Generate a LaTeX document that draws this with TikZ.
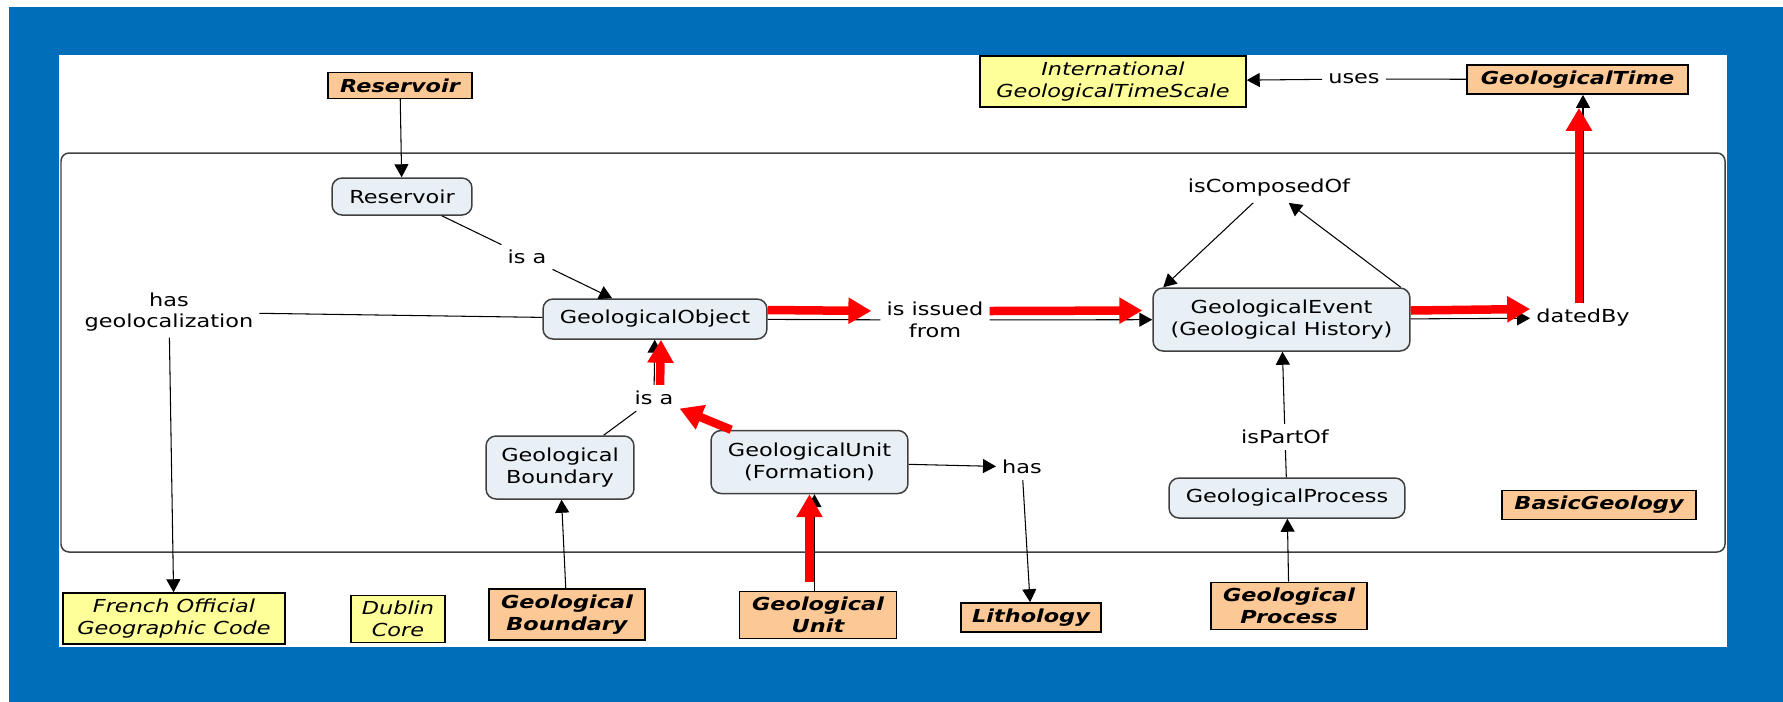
\documentclass[tikz,border=0pt]{standalone}
\usepackage{fontspec}
\setmainfont{DejaVu Sans}[FakeStretch=1.25]
\usetikzlibrary{arrows.meta}
\newcommand{\mapfont}{\fontsize{10.2}{12.3}\selectfont}
\definecolor{bgblue}{rgb}{0.0, 0.43, 0.72}
\definecolor{morange}{rgb}{0.99, 0.79, 0.59}
\definecolor{myellow}{rgb}{1.0, 1.0, 0.6}
\definecolor{mconcept}{rgb}{0.91, 0.94, 0.96}
\tikzset{concept/.style = {draw=black!75, fill=mconcept, rounded corners=0.2cm,
                           line width=0.85pt, align=center},
         ontology/.style = {draw, fill=morange, line width=0.85pt, align=center,
                            font=\mapfont\bfseries\itshape},
         extbox/.style = {draw, fill=myellow, line width=0.85pt, align=center,
                          font=\mapfont\itshape},
         linkphrase/.style = {align=center},
         conn/.style = {line width=0.6pt},
         arr/.style = {line width=0.6pt, -{Triangle[length=0.26cm, width=0.28cm]}},
         hilite/.style = {red, line width=0.17cm, -{Triangle[length=0.46cm, width=0.5cm]}}}

\begin{document}
\begin{tikzpicture}[x=0.02cm, y=-0.02cm, font=\mapfont]
    \useasboundingbox (0, 0) rectangle (1783, 701);
    \fill [white] (0, 0) rectangle (1783, 701);
    \fill [bgblue] (9, 7) rectangle (1900, 800);
    \fill [white] (59, 55) rectangle (1727, 647);

    \draw [black!75, line width=0.85pt, rounded corners=0.16cm] (61, 153) rectangle (1725, 552);

    % concepts and ontologies
    \node [ontology, minimum width=2.88cm, minimum height=0.5cm] (resOnt) at (400, 85.5) {Reservoir};
    \node [concept, minimum width=2.8cm, minimum height=0.74cm] (reservoir) at (402, 196.5) {Reservoir};
    \node [concept, minimum width=4.48cm, minimum height=0.8cm] (geoObject) at (655, 319) {GeologicalObject};
    \node [extbox, minimum width=4.44cm, minimum height=1.02cm] (frenchCode) at (174, 618.5) {French Official\\Geographic Code};
    \node [extbox, minimum width=1.88cm, minimum height=0.92cm] (dublin) at (398, 619) {Dublin\\Core};
    \node [ontology, minimum width=3.12cm, minimum height=1.02cm] (boundOnt) at (567, 614.5) {Geological\\Boundary};
    \node [concept, minimum width=2.96cm, minimum height=1.26cm] (boundary) at (560, 467.5) {Geological\\Boundary};
    \node [concept, minimum width=3.94cm, minimum height=1.26cm] (unit) at (809.5, 462) {GeologicalUnit\\(Formation)};
    \node [ontology, minimum width=3.14cm, minimum height=0.92cm] (unitOnt) at (818, 615) {Geological\\Unit};
    \node [ontology, minimum width=2.8cm, minimum height=0.58cm] (lithoOnt) at (1031, 617.5) {Lithology};
    \node [concept, minimum width=4.72cm, minimum height=0.8cm] (process) at (1287, 498) {GeologicalProcess};
    \node [ontology, minimum width=3.12cm, minimum height=0.92cm] (processOnt) at (1289, 606) {Geological\\Process};
    \node [ontology, minimum width=3.88cm, minimum height=0.56cm] (basicOnt) at (1599, 505) {BasicGeology};
    \node [concept, minimum width=5.14cm, minimum height=1.26cm] (event) at (1281.5, 319.5) {GeologicalEvent\\(Geological History)};
    \node [ontology, minimum width=4.42cm, minimum height=0.58cm] (timeOnt) at (1577.5, 79.5) {GeologicalTime};
    \node [extbox, minimum width=5.32cm, minimum height=1.02cm] (timeScale) at (1113, 81.5) {International\\GeologicalTimeScale};

    % linking phrases
    \node [linkphrase] (isaTop) at (527, 257) {is a};
    \node [linkphrase] (hasGeo) at (169, 312) {has\\geolocalization};
    \node [linkphrase] (isaMid) at (654, 398) {is a};
    \node [linkphrase] (has) at (1022, 467) {has};
    \node [linkphrase] (isPartOf) at (1285, 437) {isPartOf};
    \node [linkphrase] (isComposed) at (1269, 188) {isComposedOf};
    \node [linkphrase] (isIssued) at (935, 320) {is issued\\from};
    \node [linkphrase] (datedBy) at (1583, 318) {datedBy};
    \node [linkphrase] (uses) at (1354, 79) {uses};

    \coordinate (unitFoot) at (unitOnt.north -| unit);
    \coordinate (timeFoot) at (datedBy.north |- timeOnt.south);

    \draw [arr] (resOnt) -- (reservoir);
    \draw [conn] (reservoir) -- (isaTop);
    \draw [arr] (isaTop) -- (geoObject);
    \draw [conn] (geoObject) -- (hasGeo);
    \draw [arr] (hasGeo) -- (frenchCode);
    \draw [conn] (geoObject) -- (isIssued);
    \draw [arr] (isIssued) -- (event);
    \draw [arr] (event) -- (datedBy);
    \draw [arr] (datedBy.north) -- (timeFoot);
    \draw [conn] (timeOnt) -- (uses);
    \draw [arr] (uses) -- (timeScale);
    \draw [arr] ([xshift=-0.2cm]event.north east) -- (isComposed);
    \draw [arr] (isComposed) -- ([xshift=0.22cm]event.north west);
    \draw [arr] (processOnt) -- (process);
    \draw [conn] (process) -- (isPartOf);
    \draw [arr] (isPartOf) -- (event);
    \draw [arr] (unit) -- (has);
    \draw [arr] (has) -- (lithoOnt);
    \draw [arr] (boundOnt) -- (boundary);
    \draw [conn] (boundary) -- (isaMid);
    \draw [arr] (isaMid) -- (geoObject);
    \draw [arr] ([xshift=0.1cm]unitFoot) -- ([xshift=0.1cm]unit.south);

    % highlighted path
    \draw [hilite, shorten >=0.18cm] ([yshift=0.18cm]geoObject.east) -- ([yshift=0.18cm]isIssued.west);
    \draw [hilite, shorten >=0.2cm] ([yshift=0.18cm]isIssued.east) -- ([yshift=0.18cm]event.west);
    \draw [hilite] ([yshift=0.18cm]event.east) -- ([yshift=0.18cm]datedBy.west);
    \draw [hilite, shorten >=0.26cm] ([xshift=-0.08cm]datedBy.north) -- ([xshift=-0.08cm]timeFoot);
    \draw [hilite, shorten <=0.18cm] (unitFoot) -- (unit.south);
    \draw [hilite] (unit) -- (isaMid);
    \draw [hilite] ([xshift=0.12cm]isaMid.north) -- ([xshift=0.12cm]geoObject.south);
  \end{tikzpicture}
\end{document}
